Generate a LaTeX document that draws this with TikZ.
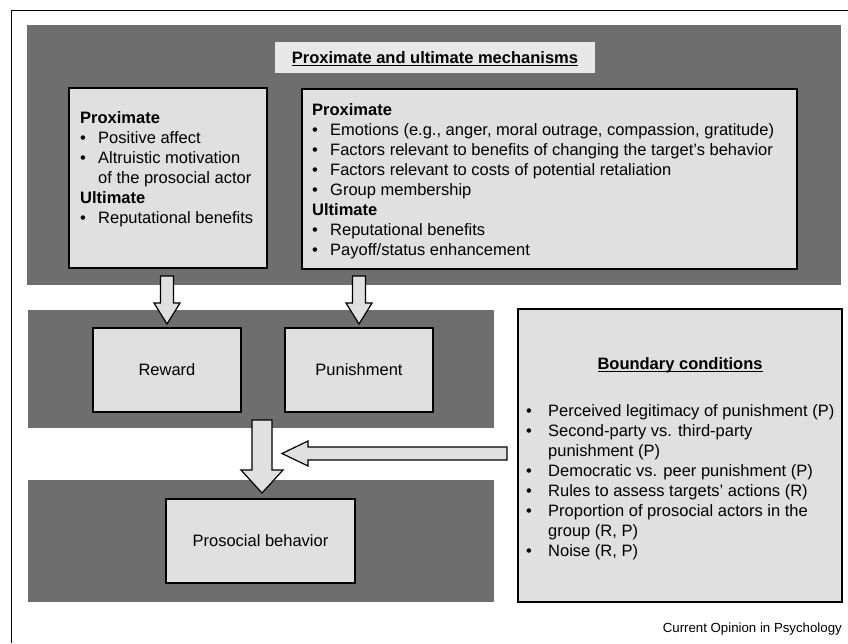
\documentclass[tikz,border=0pt]{standalone}
\usepackage{fontspec}
\setmainfont{Liberation Sans}
\definecolor{bandgray}{HTML}{6E6E6E}
\definecolor{boxgray}{HTML}{E0E0E0}
\definecolor{titlegray}{HTML}{E8E8E8}
\newcommand{\bul}{\makebox[18pt][l]{\textbullet}}
\newcommand{\bulb}{\makebox[22pt][l]{\textbullet}}
\newcommand{\ulx}[1]{\setbox0\hbox{#1}\rlap{\rule[-3.2pt]{\wd0}{1.1pt}}\box0}
\newcommand{\vblock}[6]{% xc, ytop, ybase, ytip, shaft half, head half
  \draw[blk] (#1-#5,#2) -- (#1+#5,#2) -- (#1+#5,#3) -- (#1+#6,#3) -- (#1,#4)
    -- (#1-#6,#3) -- (#1-#5,#3) -- cycle;}
\begin{document}
\begin{tikzpicture}[x=1pt,y=-1pt,
  box/.style={fill=boxgray, draw=black, line width=1.3pt, inner sep=0pt},
  blk/.style={fill=boxgray, draw=black, line width=1.2pt, line join=miter},
  txt/.style={inner sep=0pt, align=left, font=\fontsize{16.5}{20}\selectfont},
  lbl/.style={font=\fontsize{16.5}{20}\selectfont},
]
\useasboundingbox (0,0) rectangle (848,643);
% frame
\draw[line width=1pt] (11,643) -- (11,10) -- (848,10);
% bands
\fill[bandgray] (27,25) rectangle (841,285);
\fill[bandgray] (28,310) rectangle (494,428);
\fill[bandgray] (28,480) rectangle (494,602);
% title
\node[fill=titlegray, minimum width=320pt, minimum height=31pt, inner sep=0pt] (T) at (435,57.5) {};
\node[anchor=base, inner sep=0pt, font=\bfseries\fontsize{16.5}{20}\selectfont] (Tt) at (435,63) {\ulx{Proximate and ultimate mechanisms}};
% upper boxes
\node[box, minimum width=198pt, minimum height=180pt] (L) at (168,178) {};
\node[box, minimum width=495pt, minimum height=180pt] (R) at (549.5,179) {};
\node[txt, anchor=base west] (Lt) at (80,223) {\textbf{Proximate}\\
\bul Positive affect\\
\bul Altruistic motivation\\
\hspace*{18pt}of the prosocial actor\\
\textbf{Ultimate}\\
\bul Reputational benefits};
\node[txt, anchor=base west] (Rt) at (312,255) {\textbf{Proximate}\\
\bul Emotions (e.g., anger, moral outrage, compassion, gratitude)\\
\bul Factors relevant to benefits of changing the target’s behavior\\
\bul Factors relevant to costs of potential retaliation\\
\bul Group membership\\
\textbf{Ultimate}\\
\bul Reputational benefits\\
\bul Payoff/status enhancement};
% middle
\node[box, minimum width=148pt, minimum height=84pt, lbl] (Rw) at (167,370) {Reward};
\node[box, minimum width=148pt, minimum height=84pt, lbl] (Pu) at (359,370) {Punishment};
\node[box, minimum width=189pt, minimum height=84pt, lbl] (Pb) at (260.5,541) {Prosocial behavior};
% boundary
\node[box, minimum width=324pt, minimum height=293pt] (B) at (680,455.5) {};
\node[anchor=base, inner sep=0pt, font=\bfseries\fontsize{16.5}{20}\selectfont] (Bt) at (680,369) {\ulx{Boundary conditions}};
\node[txt, anchor=base west] (Bl) at (526,556) {\bulb Perceived legitimacy of punishment (P)\\
\bulb Second-party vs. third-party\\
\hspace*{22pt}punishment (P)\\
\bulb Democratic vs. peer punishment (P)\\
\bulb Rules to assess targets’ actions (R)\\
\bulb Proportion of prosocial actors in the\\
\hspace*{22pt}group (R, P)\\
\bulb Noise (R, P)};
% block arrows
\vblock{167}{276}{303}{324}{6.5}{13}
\vblock{359}{276}{303}{324}{6.5}{13}
\vblock{262}{420}{470}{493}{10}{21}
\draw[blk] (507,447) -- (507,460) -- (308,460) -- (308,466) -- (282,453.5) -- (308,441) -- (308,447) -- cycle;
% credit
\node[anchor=base east, inner sep=0pt, font=\fontsize{13.25}{15}\selectfont] (C) at (842,632.5) {Current Opinion in Psychology};
\end{tikzpicture}
\end{document}
